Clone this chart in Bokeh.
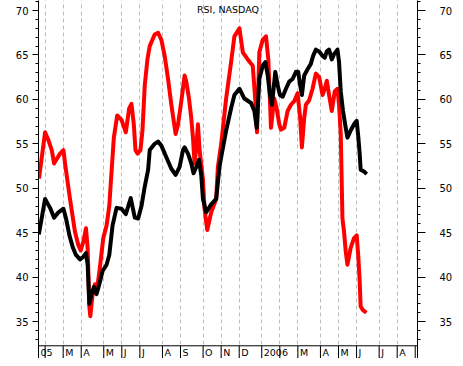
from bokeh.plotting import figure
from bokeh.models import Range1d, LinearAxis, FixedTicker, Span, Label, Grid
from bokeh.core.properties import value
from bokeh.embed import file_html
from bokeh.resources import INLINE

# x = weeks since Friday 2005-02-04
red_w = [-1.35, 0.00, 0.75, 1.48, 1.99, 2.58, 3.31, 4.06, 4.42, 5.52,
         6.62, 7.37, 7.88, 8.48, 9.05, 9.43, 9.80, 10.02, 10.46, 11.04,
         11.57, 12.14, 12.89, 13.62, 14.22, 14.50, 15.23, 15.98, 16.93, 17.88,
         18.63, 19.14, 19.65, 20.02, 20.46, 21.13, 21.57, 22.08, 22.67, 23.18,
         24.28, 25.03, 25.76, 26.49, 27.24, 27.97, 28.92, 29.45, 30.18, 30.91,
         31.28, 31.88, 32.38, 32.76, 33.11, 33.49, 33.86, 34.22, 34.97, 35.32,
         35.92, 36.80, 37.90, 38.28, 39.01, 40.11, 41.21, 41.94, 43.05, 43.80,
         44.90, 46.00, 46.58, 46.95, 47.46, 48.21, 48.94, 49.45, 49.82, 50.04,
         50.77, 51.30, 51.88, 52.25, 52.98, 53.73, 54.46, 55.19, 55.94, 56.51,
         56.89, 57.40, 57.77, 58.50, 59.25, 59.98, 60.71, 61.46, 61.96, 62.41,
         62.91, 63.51, 64.17, 64.77, 65.12, 65.50, 65.87, 66.23, 66.60, 66.98,
         67.70, 68.43, 69.03, 69.40, 69.69, 69.91, 70.42, 71.17]
red_v = [51.1, 56.3, 55.4, 54.3, 52.8, 53.3, 53.9, 54.3, 52.8, 48.8,
         45.1, 43.6, 43.0, 44.0, 45.5, 43.3, 36.7, 35.6, 37.8, 39.2,
         38.9, 41.1, 44.4, 45.8, 48.0, 50.2, 55.7, 58.2, 57.7, 56.3,
         59.0, 59.5, 57.2, 54.3, 53.9, 54.3, 56.5, 61.6, 64.5, 66.0,
         67.3, 67.5, 66.7, 64.9, 62.3, 59.4, 56.1, 57.2, 59.8, 62.7,
         62.0, 60.1, 57.9, 55.7, 52.8, 54.6, 57.2, 54.3, 51.0, 47.7,
         45.3, 47.3, 48.8, 52.4, 55.0, 60.1, 64.2, 67.1, 68.0, 65.3,
         64.5, 63.8, 59.8, 56.3, 65.3, 66.7, 67.1, 64.5, 59.8, 56.8,
         60.1, 59.0, 57.2, 56.6, 56.8, 58.7, 59.4, 59.8, 60.7, 57.9,
         54.6, 57.9, 59.4, 59.9, 61.2, 62.9, 62.5, 60.5, 61.2, 62.1,
         60.5, 58.7, 60.9, 61.2, 59.4, 56.1, 46.6, 45.1, 42.9, 41.4,
         43.3, 44.4, 44.7, 42.2, 39.6, 36.7, 36.3, 36.0]

black_w = [-1.39, 0.00, 1.10, 1.99, 2.96, 4.06, 4.64, 5.39, 6.11, 6.84,
           7.73, 8.48, 9.05, 9.43, 9.80, 10.31, 10.82, 11.41, 12.01, 12.74,
           13.62, 14.22, 14.94, 15.83, 16.93, 17.88, 18.98, 19.87, 20.62, 21.35,
           22.08, 22.83, 23.18, 24.28, 25.03, 25.76, 26.86, 27.97, 28.92, 29.80,
           30.55, 30.91, 31.66, 32.38, 32.89, 33.49, 34.08, 34.59, 34.97, 35.70,
           36.80, 37.90, 38.63, 39.01, 40.11, 41.21, 41.94, 43.05, 44.15, 45.63,
           46.36, 46.89, 47.46, 48.21, 48.79, 49.32, 49.82, 50.26, 50.99, 51.52,
           52.03, 52.63, 53.36, 54.08, 54.83, 55.56, 56.07, 56.51, 56.89, 57.40,
           58.15, 58.87, 59.38, 59.98, 60.71, 61.46, 61.96, 62.41, 62.91, 63.51,
           64.02, 64.77, 65.12, 65.50, 66.00, 66.60, 66.98, 67.70, 68.43, 69.03,
           69.40, 69.69, 69.91, 70.64, 71.24]
black_v = [44.8, 48.8, 47.8, 46.7, 47.3, 47.7, 46.6, 44.7, 43.4, 42.5,
           42.0, 42.3, 42.7, 41.4, 37.0, 38.1, 38.9, 38.1, 39.2, 40.7,
           41.4, 42.5, 45.8, 47.8, 47.7, 47.1, 48.9, 46.7, 46.6, 48.0,
           50.2, 52.1, 54.3, 55.0, 55.25, 54.8, 53.5, 52.2, 51.5, 52.4,
           54.3, 54.6, 53.9, 52.8, 51.7, 52.4, 53.2, 51.5, 48.8, 47.3,
           48.2, 48.8, 52.4, 53.5, 56.5, 59.0, 60.5, 61.2, 60.1, 59.6,
           58.7, 56.8, 62.3, 63.8, 64.2, 62.7, 60.5, 59.4, 63.1, 61.6,
           60.5, 60.3, 61.2, 62.0, 62.3, 63.1, 63.1, 61.6, 60.5, 62.7,
           63.4, 64.0, 64.9, 65.6, 65.4, 64.9, 64.7, 65.4, 65.6, 64.5,
           65.1, 65.6, 64.2, 60.9, 58.7, 56.8, 55.7, 56.5, 57.2, 57.6,
           55.7, 53.9, 52.1, 51.9, 51.6]

# first Friday of each month (weeks since 2005-02-04), Feb 2005 .. Aug 2006
month_weeks = [0, 4, 8, 13, 17, 21, 26, 30, 35, 39, 43, 48, 52, 56, 61, 65, 69, 74, 78]
band_weeks = month_weeks + [82]
month_labels = ["05", "M", "A", "M", "J", "J", "A", "S", "O", "N", "D",
                "2006", "M", "A", "M", "J", "J", "A"]
y_major = [35, 40, 45, 50, 55, 60, 65, 70]
y_minor = list(range(33, 72))

X0, X1 = -1.46, 82.5
Y0, Y1 = 30.85, 71.13
BAND = 32.28
label_weeks = [X0, 4, 8, 13, 17, 21, 26, 30, 35, 39, 43, 48, 56, 61, 65, 69, 74, 78]

FONT = "DejaVu Sans"

p = figure(width=455, height=358, x_range=Range1d(X0, X1), y_range=Range1d(Y0, Y1),
           output_backend="svg", toolbar_location=None,
           x_axis_location=None, y_axis_location=None,
           min_border_left=38, min_border_right=37, min_border_top=0, min_border_bottom=0,
           outline_line_color=None, background_fill_color="white", border_fill_color="white")
for g in p.grid:
    g.visible = False

ticker = FixedTicker(ticks=y_major, minor_ticks=y_minor)
for side, tick_out, standoff in (("left", 6, 4), ("right", 8, 14)):
    ax = LinearAxis(ticker=ticker)
    ax.axis_line_color = "black"
    ax.major_tick_in = 0
    ax.major_tick_out = tick_out
    ax.minor_tick_in = 0
    ax.minor_tick_out = 3
    ax.major_tick_line_color = "black"
    ax.minor_tick_line_color = "black"
    ax.major_label_standoff = standoff
    ax.major_label_text_font = FONT
    ax.major_label_text_font_size = "10px"
    ax.major_label_text_color = "black"
    p.add_layout(ax, side)

grid = Grid(dimension=0, ticker=FixedTicker(ticks=month_weeks),
            grid_line_color="#bdbdbd", grid_line_dash="4 3", grid_line_width=1)
p.add_layout(grid, "center")

# month band at the bottom
p.segment(x0=band_weeks, y0=Y0, x1=band_weeks, y1=BAND, line_color="black", line_width=1)
p.add_layout(Span(location=BAND, dimension="width", line_color="black", line_width=1))
p.text(x=label_weeks, y=[(Y0 + BAND) / 2] * len(label_weeks), text=month_labels,
       x_offset=2, text_align="left", text_baseline="middle",
       text_font=value(FONT), text_font_size="9.5px", text_color="black")

p.line(red_w, red_v, line_color="#ff0000", line_width=4, line_join="round")
p.line(black_w, black_v, line_color="#000000", line_width=4, line_join="round")

p.add_layout(Label(x=(X0 + X1) / 2, y=Y1, y_offset=-3, text="RSI, NASDAQ",
                   text_align="center", text_baseline="top",
                   text_font=FONT, text_font_size="9.5px", text_color="black"))

open("out.html", "w").write(file_html(p, INLINE))
